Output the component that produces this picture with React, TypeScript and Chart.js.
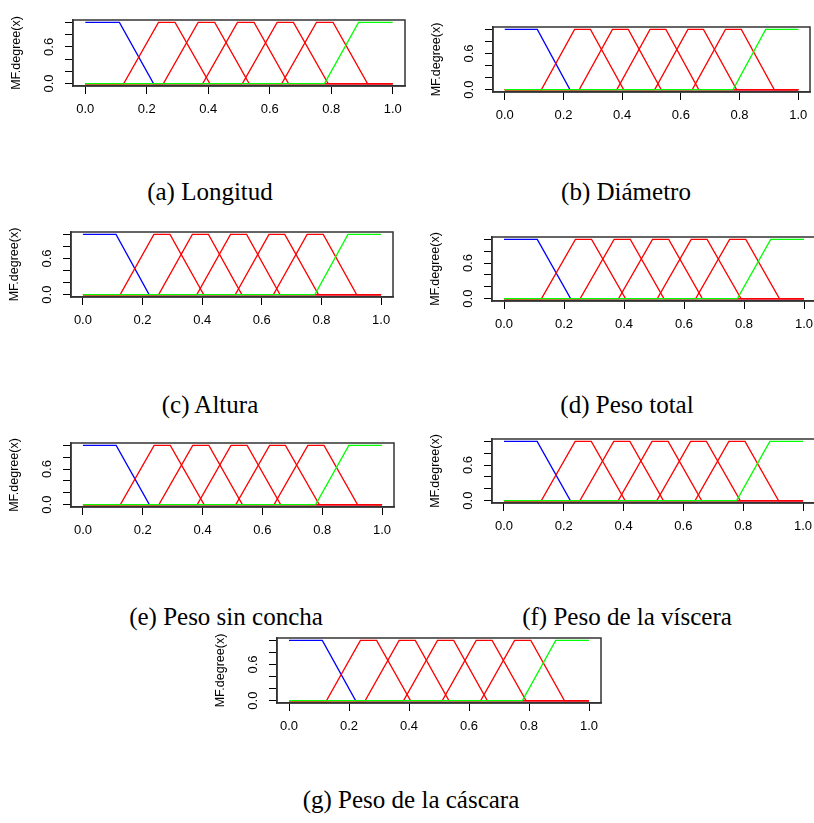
import { useEffect, useRef } from "react";
import { Chart, registerables } from "chart.js";

Chart.register(...registerables);

// Axis ticks
const X_TICKS = [0, 0.2, 0.4, 0.6, 0.8, 1.0];
const Y_TICKS = [0, 0.2, 0.4, 0.6, 0.8, 1.0];
const Y_LABELED = [0, 0.6];

// Membership functions on the normalised domain [0, 1]
const LOW_X = [0, 0.111, 0.222, 1];
const LOW_Y = [1, 1, 0, 0];
const MID_Y = [0, 0, 1, 1, 0, 0];
const MID1_X = [0, 0.125, 0.238, 0.292, 0.405, 1];
const MID2_X = [0, 0.254, 0.367, 0.421, 0.533, 1];
const MID3_X = [0, 0.382, 0.495, 0.549, 0.661, 1];
const MID4_X = [0, 0.511, 0.624, 0.677, 0.79, 1];
const MID5_X = [0, 0.639, 0.752, 0.806, 0.918, 1];
const HIGH_X = [0, 0.778, 0.889, 1];
const HIGH_Y = [0, 0, 1, 1];

const CAPTIONS = [
  "(a) Longitud",
  "(b) Diámetro",
  "(c) Altura",
  "(d) Peso total",
  "(e) Peso sin concha",
  "(f) Peso de la víscera",
  "(g) Peso de la cáscara",
];

// Page layout: plot box [left, top, right, bottom] and caption [centerX, baseline]
const LAYOUT = [
  { box: [73, 20, 405, 86], cap: [210, 200] },
  { box: [493, 27, 810, 92], cap: [626, 200] },
  { box: [71, 232, 393, 297], cap: [210, 413] },
  { box: [492, 237, 816, 301], cap: [627, 413] },
  { box: [71, 443, 394, 507], cap: [226, 625] },
  { box: [492, 439, 815, 503], cap: [627, 625] },
  { box: [277, 638, 601, 703], cap: [411, 808] },
];

const SANS = "'Liberation Sans', Arial, Helvetica, sans-serif";
const SERIF = "'Liberation Serif', 'Times New Roman', serif";

const PAD_L = 72;
const PAD_T = 20;
const PAD_R = 12;
const PAD_B = 40;

const pts = (xs: number[], ys: number[]) => xs.map((x, i) => ({ x, y: ys[i] }));

const framePlugin = {
  id: "frame",
  afterDraw(chart: Chart) {
    const { ctx, chartArea } = chart;
    ctx.save();
    ctx.strokeStyle = "#333";
    ctx.lineWidth = 1.5;
    ctx.strokeRect(
      chartArea.left,
      chartArea.top,
      chartArea.right - chartArea.left,
      chartArea.bottom - chartArea.top
    );
    ctx.restore();
  },
};

function Panel({ box, cap, text }: { box: number[]; cap: number[]; text: string }) {
  const ref = useRef<HTMLCanvasElement>(null);
  const [L, T, R, B] = box;
  const W = R - L + PAD_L + PAD_R;
  const H = B - T + PAD_T + PAD_B;

  useEffect(() => {
    const line = (xs: number[], ys: number[], color: string, order: number) => ({
      data: pts(xs, ys),
      borderColor: color,
      backgroundColor: color,
      showLine: true,
      fill: false,
      order,
    });
    const chart = new Chart(ref.current as HTMLCanvasElement, {
      type: "scatter",
      data: {
        datasets: [
          line(LOW_X, LOW_Y, "#0000ff", 3),
          line(MID1_X, MID_Y, "#ff0000", 2),
          line(MID2_X, MID_Y, "#ff0000", 2),
          line(MID3_X, MID_Y, "#ff0000", 2),
          line(MID4_X, MID_Y, "#ff0000", 2),
          line(MID5_X, MID_Y, "#ff0000", 2),
          line(HIGH_X, HIGH_Y, "#00ff00", 1),
        ],
      },
      options: {
        animation: false,
        responsive: false,
        devicePixelRatio: 1,
        events: [],
        layout: { padding: { left: 0, top: PAD_T, right: PAD_R, bottom: 0 } },
        plugins: { legend: { display: false }, tooltip: { enabled: false } },
        elements: {
          point: { radius: 0 },
          line: { borderWidth: 1.3, tension: 0 },
        },
        scales: {
          x: {
            type: "linear",
            min: -0.04,
            max: 1.04,
            afterBuildTicks: (s: any) => {
              s.ticks = X_TICKS.map((v) => ({ value: v }));
            },
            afterFit: (s: any) => {
              s.height = PAD_B;
            },
            ticks: {
              autoSkip: false,
              maxRotation: 0,
              color: "#000",
              font: { family: SANS, size: 13 },
              padding: 7.5,
              callback: (v: any) => Number(v).toFixed(1),
            },
            grid: {
              drawOnChartArea: false,
              drawTicks: true,
              tickLength: 8,
              color: "#000",
              lineWidth: 1,
            },
            border: { display: true, color: "#333", width: 1.5 },
          },
          y: {
            type: "linear",
            min: -0.04,
            max: 1.04,
            afterBuildTicks: (s: any) => {
              s.ticks = Y_TICKS.map((v) => ({ value: v }));
            },
            afterFit: (s: any) => {
              s.width = PAD_L;
            },
            ticks: {
              autoSkip: false,
              minRotation: 90,
              maxRotation: 90,
              crossAlign: "center",
              color: "#000",
              font: { family: SANS, size: 13 },
              padding: 6.5,
              callback: (v: any) =>
                Y_LABELED.some((t) => Math.abs(t - Number(v)) < 1e-9)
                  ? Number(v).toFixed(1)
                  : "",
            },
            title: {
              display: true,
              text: "MF.degree(x)",
              color: "#000",
              font: { family: SANS, size: 12.5 },
              padding: { top: 8.5, bottom: 0 },
            },
            grid: {
              drawOnChartArea: false,
              drawTicks: true,
              tickLength: 8,
              color: "#000",
              lineWidth: 1,
            },
            border: { display: true, color: "#333", width: 1.5 },
          },
        },
      } as any,
      plugins: [framePlugin],
    });
    return () => chart.destroy();
  }, []);

  return (
    <>
      <canvas
        ref={ref}
        width={W}
        height={H}
        style={{
          position: "absolute",
          left: L - PAD_L,
          top: T - PAD_T,
          width: W,
          height: H,
        }}
      />
      <div
        style={{
          position: "absolute",
          left: cap[0] - 200,
          width: 400,
          top: cap[1] - 21,
          textAlign: "center",
          fontFamily: SERIF,
          fontSize: 25,
          lineHeight: "25px",
          whiteSpace: "nowrap",
          color: "#000",
        }}
      >
        {text}
      </div>
    </>
  );
}

export default function App() {
  return (
    <div
      style={{
        position: "absolute",
        left: 0,
        top: 0,
        width: 814,
        height: 823,
        overflow: "hidden",
        background: "#fff",
      }}
    >
      {LAYOUT.map((p, i) => (
        <Panel key={i} box={p.box} cap={p.cap} text={CAPTIONS[i]} />
      ))}
    </div>
  );
}
